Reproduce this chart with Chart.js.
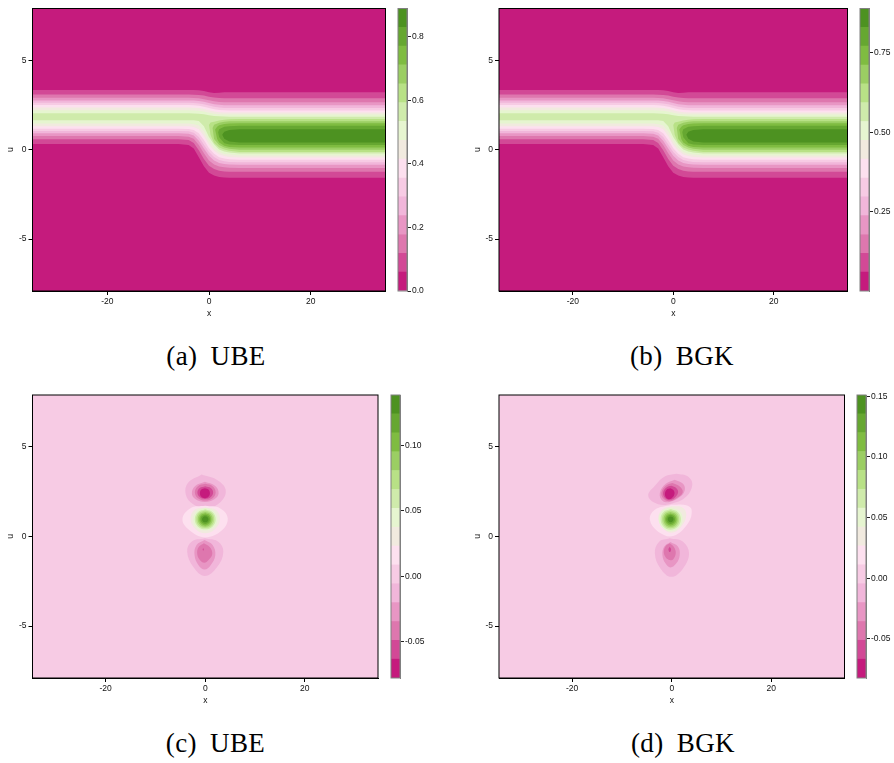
<!DOCTYPE html>
<html>
<head>
<meta charset="utf-8">
<title>UBE / BGK contours</title>
<script src="https://cdn.jsdelivr.net/npm/chart.js@4"></script>
<style>
  html, body { margin: 0; padding: 0; background: #fff; }
  #page { position: relative; width: 894px; height: 763px; overflow: hidden; }
  canvas { position: absolute; }
  .caption {
    position: absolute; width: 300px; text-align: center; color: #000;
    font: 27px "Liberation Serif", serif; word-spacing: 6px; letter-spacing: 0.4px; white-space: nowrap;
  }
</style>
</head>
<body>
<div id="page"></div>
<script>
// ------ Data ------
var bandColors = ['#C51B7D', '#D24996', '#DE77AE', '#E896C4', '#F1B6DA', '#F7CBE4', '#FDE0EF', '#F1EADF',
                  '#E6F5D0', '#CFEBAB', '#B8E186', '#9BCE63', '#7FBC41', '#66A731', '#4D9221'];

var xTicks = [-20, 0, 20];
var uTicks = [-5, 0, 5];
var xRange = [-34.7, 34.7];
var uRange = [-7.9, 7.9];

var levelsA = [0, 0.0593, 0.1186, 0.1779, 0.2372, 0.2965, 0.3557, 0.415, 0.4743, 0.5336, 0.5929, 0.6522, 0.7115, 0.7708, 0.8301, 0.889];
var levelsB = [0, 0.0593, 0.1187, 0.178, 0.2373, 0.2967, 0.356, 0.4153, 0.4747, 0.534, 0.5933, 0.6527, 0.712, 0.7713, 0.8307, 0.89];
var levelsC = [-0.0778, -0.0634, -0.049, -0.0346, -0.0202, -0.0058, 0.0086, 0.023, 0.0374, 0.0518, 0.0663, 0.0807, 0.0951, 0.1095, 0.124, 0.1384];
var levelsD = [-0.0822, -0.0667, -0.0511, -0.0356, -0.02, -0.0045, 0.0111, 0.0267, 0.0422, 0.0578, 0.0733, 0.0889, 0.1044, 0.12, 0.1355, 0.151];

var barTicksA = [0, 0.2, 0.4, 0.6, 0.8];
var barTicksB = [0.25, 0.5, 0.75];
var barTicksC = [-0.05, 0, 0.05, 0.1];
var barTicksD = [-0.05, 0, 0.05, 0.1, 0.15];

// x positions shared by the contours that cross the whole domain
var frontX = [-34.7, -6, -4, -3, -2, -1, 0, 1, 2, 3, 4, 6, 34.7];

// upper and lower edge of the region above each level, levels 1..9
var frontUpper = [
  [3.34, 3.34, 3.34, 3.34, 3.33, 3.29, 3.22, 3.17, 3.19, 3.21, 3.22, 3.22, 3.22],
  [3.09, 3.09, 3.09, 3.08, 3.06, 3.03, 2.97, 2.92, 2.89, 2.88, 2.875, 2.875, 2.875],
  [2.91, 2.91, 2.91, 2.90, 2.88, 2.83, 2.77, 2.71, 2.67, 2.66, 2.655, 2.655, 2.655],
  [2.76, 2.76, 2.76, 2.75, 2.73, 2.68, 2.61, 2.54, 2.51, 2.49, 2.483, 2.483, 2.483],
  [2.63, 2.63, 2.63, 2.62, 2.59, 2.54, 2.47, 2.40, 2.36, 2.34, 2.336, 2.336, 2.336],
  [2.50, 2.50, 2.50, 2.49, 2.46, 2.41, 2.34, 2.27, 2.22, 2.21, 2.20, 2.20, 2.20],
  [2.36, 2.36, 2.36, 2.35, 2.33, 2.28, 2.21, 2.14, 2.10, 2.09, 2.08, 2.08, 2.08],
  [2.21, 2.21, 2.21, 2.20, 2.18, 2.14, 2.07, 2.02, 1.98, 1.97, 1.965, 1.965, 1.965],
  [2.04, 2.04, 2.04, 2.03, 2.02, 1.98, 1.93, 1.89, 1.87, 1.855, 1.85, 1.85, 1.85]
];
var frontLower = [
  [0.32, 0.32, 0.26, 0.07, -0.42, -0.92, -1.28, -1.44, -1.52, -1.55, -1.56, -1.56, -1.56],
  [0.59, 0.59, 0.55, 0.38, -0.03, -0.52, -0.89, -1.08, -1.18, -1.22, -1.235, -1.235, -1.235],
  [0.77, 0.77, 0.73, 0.61, 0.26, -0.20, -0.60, -0.82, -0.93, -0.98, -1.0, -1.015, -1.015],
  [0.92, 0.92, 0.90, 0.80, 0.50, 0.07, -0.33, -0.60, -0.74, -0.79, -0.83, -0.843, -0.843],
  [1.05, 1.05, 1.03, 0.95, 0.72, 0.30, -0.12, -0.40, -0.57, -0.64, -0.68, -0.696, -0.696],
  [1.18, 1.18, 1.16, 1.11, 0.92, 0.54, 0.08, -0.23, -0.42, -0.49, -0.53, -0.56, -0.56],
  [1.32, 1.32, 1.32, 1.27, 1.14, 0.77, 0.28, -0.05, -0.26, -0.35, -0.40, -0.44, -0.44],
  [1.47, 1.47, 1.47, 1.43, 1.36, 1.04, 0.50, 0.11, -0.13, -0.24, -0.27, -0.325, -0.325],
  [1.65, 1.65, 1.65, 1.65, 1.61, 1.32, 0.72, 0.29, 0.01, -0.10, -0.15, -0.21, -0.21]
];

// levels 10..14 only exist right of x = 0, they close in a nose
var noseContours = [
  [[0, 1.38], [0.3, 1.52], [1, 1.57], [2, 1.63], [3, 1.68], [4, 1.71], [6, 1.72], [34.7, 1.72], [34.7, -0.12], [6, -0.12], [4, -0.06], [3, 0.01], [2, 0.13], [1, 0.38], [0.3, 0.83]],
  [[0.7, 1.22], [1, 1.40], [2, 1.51], [3, 1.57], [4, 1.59], [6, 1.60], [34.7, 1.60], [34.7, 0.0], [6, 0.0], [4, 0.05], [3, 0.12], [2, 0.26], [1, 0.60]],
  [[1.2, 1.13], [1.6, 1.29], [2, 1.37], [3, 1.44], [4, 1.47], [6, 1.48], [34.7, 1.48], [34.7, 0.12], [6, 0.12], [4, 0.16], [3, 0.23], [2, 0.40], [1.6, 0.60]],
  [[1.8, 0.98], [2, 1.15], [3, 1.28], [4, 1.32], [6, 1.34], [34.7, 1.34], [34.7, 0.26], [6, 0.26], [4, 0.29], [3, 0.36], [2, 0.70]],
  [[2.6, 0.84], [3, 1.0], [4, 1.11], [6, 1.15], [34.7, 1.15], [34.7, 0.40], [6, 0.40], [4, 0.46], [3, 0.62]]
];

// closed contours of the difference fields, outermost first
var ubeTopBlob = [
  [[-0.74, 3.46], [2.29, 3.17], [4.1, 2.61], [3.1, 1.93], [0.27, 1.58], [-2.42, 1.80], [-3.9, 2.33], [-3.5, 2.98]],
  [[-0.07, 3.05], [1.95, 2.83], [2.69, 2.42], [1.82, 2.08], [-0.07, 1.93], [-1.95, 2.08], [-2.69, 2.42], [-1.95, 2.83]],
  [[0, 2.94], [1.48, 2.81], [2.09, 2.475], [1.48, 2.14], [0, 2.01], [-1.48, 2.14], [-2.09, 2.475], [-1.48, 2.81]],
  [[0, 2.81], [1.12, 2.71], [1.58, 2.46], [1.12, 2.21], [0, 2.10], [-1.12, 2.21], [-1.58, 2.46], [-1.12, 2.71]],
  [[-0.07, 2.70], [0.64, 2.62], [0.93, 2.42], [0.64, 2.22], [-0.07, 2.14], [-0.78, 2.22], [-1.07, 2.42], [-0.78, 2.62]]
];
var ubeMidBlob = [
  [[0, 1.71], [2.96, 1.58], [4.51, 1.02], [3.3, 0.33], [0, -0.05], [-3.1, 0.33], [-4.58, 0.96], [-2.96, 1.58]],
  [[0, 1.62], [2.15, 1.49], [2.96, 0.96], [1.95, 0.40], [0, 0.18], [-1.95, 0.40], [-2.96, 0.96], [-2.15, 1.49]],
  [[0, 1.60], [1.73, 1.41], [2.45, 0.96], [1.73, 0.51], [0, 0.33], [-1.73, 0.51], [-2.45, 0.96], [-1.73, 1.41]],
  [[0, 1.52], [1.48, 1.36], [2.1, 0.96], [1.48, 0.56], [0, 0.40], [-1.48, 0.56], [-2.1, 0.96], [-1.48, 1.36]],
  [[0, 1.45], [1.27, 1.31], [1.8, 0.96], [1.27, 0.61], [0, 0.47], [-1.27, 0.61], [-1.8, 0.96], [-1.27, 1.31]],
  [[0, 1.37], [1.06, 1.25], [1.5, 0.96], [1.06, 0.67], [0, 0.55], [-1.06, 0.67], [-1.5, 0.96], [-1.06, 1.25]],
  [[0, 1.30], [0.85, 1.20], [1.2, 0.96], [0.85, 0.72], [0, 0.62], [-0.85, 0.72], [-1.2, 0.96], [-0.85, 1.20]],
  [[0, 1.22], [0.67, 1.14], [0.95, 0.96], [0.67, 0.78], [0, 0.70], [-0.67, 0.78], [-0.95, 0.96], [-0.67, 1.14]],
  [[0, 1.13], [0.46, 1.08], [0.65, 0.96], [0.46, 0.84], [0, 0.79], [-0.46, 0.84], [-0.65, 0.96], [-0.46, 1.08]]
];
var ubeLowBlob = [
  [[-0.07, -0.10], [2.62, -0.29], [3.63, -0.85], [2.42, -1.69], [-0.07, -2.21], [-2.42, -1.69], [-3.63, -0.85], [-2.76, -0.29]],
  [[-0.13, -0.19], [1.48, -0.47], [2.02, -1.04], [1.08, -1.60], [-0.13, -1.84], [-1.35, -1.60], [-2.15, -1.04], [-1.75, -0.47]],
  [[-0.27, -0.38], [0.94, -0.60], [1.41, -0.98], [0.67, -1.31], [-0.2, -1.46], [-1.08, -1.31], [-1.61, -0.98], [-1.35, -0.60]],
  [[-0.40, -0.66], [-0.28, -0.72], [-0.40, -0.78], [-0.52, -0.72]]
];

var bgkTopBlob = [
  [[0.93, 3.50], [3.27, 3.35], [4.13, 2.89], [2.93, 2.23], [0.27, 1.86], [-2.73, 1.80], [-4.73, 2.27], [-3.2, 2.89], [-1.4, 3.35]],
  [[0.6, 3.17], [2.27, 2.94], [2.6, 2.57], [1.6, 2.2], [-0.4, 1.93], [-1.87, 2.0], [-2.4, 2.42], [-1.2, 2.94]],
  [[0.13, 2.98], [1.6, 2.79], [2.2, 2.46], [0.93, 2.14], [-0.53, 1.97], [-1.73, 2.14], [-2.07, 2.46], [-1.2, 2.83]],
  [[-0.07, 2.83], [0.93, 2.70], [1.27, 2.46], [0.6, 2.17], [-0.4, 2.05], [-1.4, 2.17], [-1.73, 2.46], [-1.07, 2.74]],
  [[-0.27, 2.70], [0.4, 2.57], [0.53, 2.36], [0, 2.14], [-0.67, 2.08], [-1.27, 2.23], [-1.33, 2.46], [-0.93, 2.64]]
];
var bgkMidBlob = [
  [[-0.07, 1.77], [2.93, 1.75], [4.0, 1.49], [3.27, 0.74], [0.27, 0.03], [-2.73, 0.27], [-4.4, 0.93], [-3.4, 1.49]],
  [[-0.07, 1.69], [2.13, 1.62], [2.93, 1.21], [1.93, 0.55], [-0.07, 0.21], [-1.73, 0.46], [-2.73, 1.02], [-1.87, 1.52]],
  [[-0.2, 1.62], [1.55, 1.42], [2.2, 0.96], [1.4, 0.50], [-0.3, 0.30], [-1.9, 0.50], [-2.6, 0.96], [-1.9, 1.42]],
  [[-0.2, 1.53], [1.25, 1.36], [1.85, 0.96], [1.2, 0.55], [-0.3, 0.38], [-1.65, 0.55], [-2.25, 0.96], [-1.7, 1.36]],
  [[-0.25, 1.45], [1.0, 1.31], [1.5, 0.96], [1.0, 0.60], [-0.3, 0.46], [-1.45, 0.60], [-1.95, 0.96], [-1.45, 1.31]],
  [[-0.25, 1.37], [0.8, 1.25], [1.2, 0.96], [0.8, 0.66], [-0.3, 0.54], [-1.25, 0.66], [-1.65, 0.96], [-1.25, 1.25]],
  [[-0.25, 1.29], [0.6, 1.19], [0.95, 0.96], [0.6, 0.73], [-0.25, 0.62], [-1.05, 0.73], [-1.35, 0.96], [-1.05, 1.19]],
  [[-0.25, 1.21], [0.4, 1.13], [0.65, 0.96], [0.4, 0.78], [-0.25, 0.70], [-0.85, 0.78], [-1.1, 0.96], [-0.85, 1.13]],
  [[-0.25, 1.12], [0.2, 1.07], [0.35, 0.96], [0.2, 0.85], [-0.25, 0.80], [-0.65, 0.85], [-0.8, 0.96], [-0.65, 1.07]]
];
var bgkLowBlob = [
  [[-0.4, -0.10], [2.27, -0.29], [3.47, -0.94], [2.27, -1.78], [-0.07, -2.25], [-2.27, -1.78], [-3.4, -0.94], [-2.53, -0.29]],
  [[-0.27, -0.31], [1.27, -0.57], [1.6, -1.04], [0.93, -1.50], [-0.27, -1.73], [-1.27, -1.50], [-1.87, -1.04], [-1.53, -0.57]],
  [[-0.4, -0.38], [0.47, -0.6], [0.8, -0.94], [0.27, -1.28], [-0.4, -1.31], [-1.2, -1.17], [-1.6, -0.85], [-1.2, -0.53]],
  [[-0.4, -0.57], [-0.13, -0.72], [-0.4, -0.87], [-0.67, -0.72]]
];

// ------ Layout, in page pixels ------
var FONT = '"Liberation Sans", Helvetica, Arial, sans-serif';
var FONT_SIZE = 8.5;
var TEXT_COLOR = '#111';

var page = document.getElementById('page');

function addCanvas(left, top, width, height) {
  var c = document.createElement('canvas');
  c.width = width;
  c.height = height;
  c.style.left = left + 'px';
  c.style.top = top + 'px';
  page.appendChild(c);
  return c;
}

function framePlugin(color) {
  return {
    id: 'frame',
    afterDraw: function(chart) {
      var a = chart.chartArea, ctx = chart.ctx;
      ctx.save();
      ctx.strokeStyle = color;
      ctx.lineWidth = 1;
      ctx.strokeRect(a.left, a.top, a.right - a.left, a.bottom - a.top);
      ctx.restore();
    }
  };
}

function toPoints(pairs) {
  return pairs.map(function(p) { return { x: p[0], y: p[1] }; });
}

function closedLoop(pairs) {
  return toPoints(pairs.concat([pairs[0]]));
}

function contourDataset(points, band, tension) {
  return {
    data: points,
    showLine: true,
    fill: 'shape',
    backgroundColor: bandColors[band],
    borderWidth: 0,
    pointRadius: 0,
    tension: tension
  };
}

function domainRect() {
  return closedLoop([[xRange[0], uRange[1]], [xRange[1], uRange[1]], [xRange[1], uRange[0]], [xRange[0], uRange[0]]]);
}

// ------ Top row: the two fronts ------
function frontDatasets() {
  var sets = [contourDataset(domainRect(), 0, 0)];
  frontUpper.forEach(function(upper, i) {
    var pairs = [];
    frontX.forEach(function(x, k) { pairs.push([x, upper[k]]); });
    for (var k = frontX.length - 1; k >= 0; k--) pairs.push([frontX[k], frontLower[i][k]]);
    sets.push(contourDataset(closedLoop(pairs), i + 1, 0));
  });
  noseContours.forEach(function(pairs, i) {
    sets.push(contourDataset(closedLoop(pairs), i + 10, 0));
  });
  return sets;
}

// ------ Bottom row: the three blobs on the flat background ------
function blobDatasets(topBlob, midBlob, lowBlob) {
  var sets = [contourDataset(domainRect(), 5, 0)];
  topBlob.forEach(function(c, i) { sets.push(contourDataset(closedLoop(c), 4 - i, 0.4)); });
  midBlob.forEach(function(c, i) { sets.push(contourDataset(closedLoop(c), 6 + i, 0.4)); });
  lowBlob.forEach(function(c, i) { sets.push(contourDataset(closedLoop(c), 4 - i, 0.4)); });
  return sets;
}

function drawPanel(p, datasets) {
  var left = Math.floor(p.plotLeft - 33);
  var top = p.canvasTop;
  var width = Math.ceil(p.plotRight) + 2 - left;
  var height = 322;
  // later contours have to end up on top, Chart.js paints low order last
  datasets.forEach(function(d, i) { d.order = datasets.length - i; });

  new Chart(addCanvas(left, top, width, height), {
    type: 'scatter',
    data: { datasets: datasets },
    plugins: [framePlugin('#000')],
    options: {
      responsive: false,
      animation: false,
      layout: { padding: { top: p.plotTop - top, right: width - (p.plotRight - left), bottom: 0, left: 0 } },
      plugins: { legend: { display: false }, tooltip: { enabled: false } },
      scales: {
        x: {
          type: 'linear', min: xRange[0], max: xRange[1],
          grid: { drawOnChartArea: false, drawTicks: true, tickLength: 4, color: '#000' },
          border: { color: '#000' },
          ticks: {
            autoSkip: false, maxRotation: 0, padding: 1.5, color: TEXT_COLOR,
            font: { family: FONT, size: FONT_SIZE },
            callback: function(v) { return String(v); }
          },
          title: { display: true, text: 'x', color: TEXT_COLOR, font: { family: FONT, size: FONT_SIZE }, padding: { top: 0, bottom: 3.5 } },
          afterBuildTicks: function(s) { s.ticks = xTicks.map(function(v) { return { value: v }; }); },
          afterFit: function(s) { s.height = height - (p.plotBottom - top); }
        },
        y: {
          type: 'linear', min: uRange[0], max: uRange[1],
          grid: { drawOnChartArea: false, drawTicks: true, tickLength: 4, color: '#000' },
          border: { color: '#000' },
          ticks: {
            autoSkip: false, padding: 2, color: TEXT_COLOR,
            font: { family: FONT, size: FONT_SIZE },
            callback: function(v) { return String(v); }
          },
          title: { display: true, text: 'u', color: TEXT_COLOR, font: { family: FONT, size: FONT_SIZE }, padding: { top: 7, bottom: 0 } },
          afterBuildTicks: function(s) { s.ticks = uTicks.map(function(v) { return { value: v }; }); },
          afterFit: function(s) { s.width = p.plotLeft - left; }
        }
      }
    }
  });
}

// ------ Colour bars ------
function drawBar(p, levels, ticks, decimals) {
  var left = p.barLeft - 2;
  var top = p.canvasTop;
  var barWidth = p.barRight - p.barLeft;
  var width = barWidth + 40;
  var height = p.plotBottom - top + 8;

  new Chart(addCanvas(left, top, width, height), {
    type: 'bar',
    data: {
      labels: [''],
      datasets: bandColors.map(function(color, i) {
        return {
          data: [[levels[i], levels[i + 1]]],
          backgroundColor: color,
          borderWidth: 0,
          grouped: false,
          barPercentage: 1,
          categoryPercentage: 1
        };
      })
    },
    plugins: [framePlugin('#808080')],
    options: {
      responsive: false,
      animation: false,
      layout: { padding: { top: p.plotTop - top, right: 0, bottom: 8, left: 2 } },
      plugins: { legend: { display: false }, tooltip: { enabled: false } },
      scales: {
        x: { display: false },
        y: {
          position: 'right',
          min: levels[0], max: levels[levels.length - 1],
          grid: { drawOnChartArea: false, drawTicks: true, tickLength: 4, color: '#222' },
          border: { color: '#808080' },
          ticks: {
            autoSkip: false, padding: 1, color: TEXT_COLOR,
            font: { family: FONT, size: FONT_SIZE },
            callback: function(v) { return v.toFixed(decimals); }
          },
          afterBuildTicks: function(s) { s.ticks = ticks.map(function(v) { return { value: v }; }); },
          afterFit: function(s) { s.width = width - 2 - barWidth; }
        }
      }
    }
  });
}

function addCaption(text, center, middle) {
  var d = document.createElement('div');
  d.className = 'caption';
  d.textContent = text;
  d.style.left = (center - 150) + 'px';
  d.style.top = (middle - 16) + 'px';
  page.appendChild(d);
}

// ------ The four panels ------
var panelA = { canvasTop: 0, plotLeft: 32.5, plotRight: 385.5, plotTop: 8.5, plotBottom: 291, barLeft: 398, barRight: 407 };
var panelB = { canvasTop: 0, plotLeft: 499, plotRight: 847.5, plotTop: 8.5, plotBottom: 291, barLeft: 860, barRight: 869 };
var panelC = { canvasTop: 387, plotLeft: 32.5, plotRight: 378, plotTop: 395, plotBottom: 678, barLeft: 391, barRight: 400 };
var panelD = { canvasTop: 387, plotLeft: 499, plotRight: 844.5, plotTop: 395, plotBottom: 678, barLeft: 857, barRight: 866 };

drawPanel(panelA, frontDatasets());
drawPanel(panelB, frontDatasets());
drawPanel(panelC, blobDatasets(ubeTopBlob, ubeMidBlob, ubeLowBlob));
drawPanel(panelD, blobDatasets(bgkTopBlob, bgkMidBlob, bgkLowBlob));

drawBar(panelA, levelsA, barTicksA, 1);
drawBar(panelB, levelsB, barTicksB, 2);
drawBar(panelC, levelsC, barTicksC, 2);
drawBar(panelD, levelsD, barTicksD, 2);

addCaption('(a) UBE', 216, 357);
addCaption('(b) BGK', 682, 357);
addCaption('(c) UBE', 215.5, 744);
addCaption('(d) BGK', 683, 744);
</script>
</body>
</html>
